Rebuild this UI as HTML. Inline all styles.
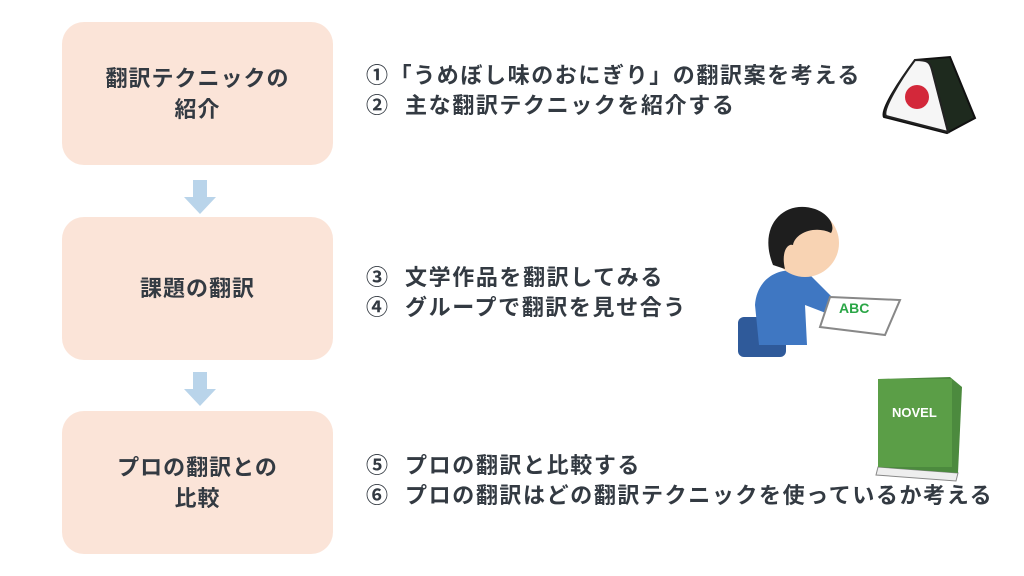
<!DOCTYPE html>
<html><head><meta charset="utf-8"><style>
body{margin:0;width:1024px;height:576px;background:#fff;position:relative;overflow:hidden;font-family:"Liberation Sans","Noto Sans CJK JP",sans-serif;font-weight:bold;color:#333a42}
.box{position:absolute;left:62px;width:271px;background:#fbe4d8;border-radius:22px;display:flex;align-items:center;justify-content:center;text-align:center;font-size:22px;line-height:31px;letter-spacing:1px}
.arr{position:absolute;left:184px;width:32px;height:34px}
.t{position:absolute;left:366px;font-size:22px;line-height:30px;white-space:nowrap;letter-spacing:1.6px}
</style></head><body>
<div class="box" style="top:22px;height:143px">翻訳テクニックの<br>紹介</div>
<div class="box" style="top:217px;height:143px">課題の翻訳</div>
<div class="box" style="top:411px;height:143px">プロの翻訳との<br>比較</div>
<svg class="arr" style="top:180px" viewBox="0 0 32 34"><path d="M9 0H23V17H32L16 34L0 17H9Z" fill="#b9d4ea"/></svg>
<svg class="arr" style="top:372px" viewBox="0 0 32 34"><path d="M9 0H23V17H32L16 34L0 17H9Z" fill="#b9d4ea"/></svg>
<div class="t" style="top:61px">①「うめぼし味のおにぎり」の翻訳案を考える<br>②&nbsp; 主な翻訳テクニックを紹介する</div>
<div class="t" style="top:263px">③&nbsp; 文学作品を翻訳してみる<br>④&nbsp; グループで翻訳を見せ合う</div>
<div class="t" style="top:451px">⑤&nbsp; プロの翻訳と比較する<br>⑥&nbsp; プロの翻訳はどの翻訳テクニックを使っているか考える</div>
<svg style="position:absolute;left:870px;top:40px" width="150" height="100" viewBox="0 0 150 100">
<path d="M45 20L80 17L105 78L77 93L14 77C10 70 30 40 45 20Z" fill="#1e2a1e" stroke="#111" stroke-width="2"/>
<path d="M45 20C58 20 60 22 62 30L78 92L16 76C12 70 30 40 45 20Z" fill="#f6f6f6" stroke="#222" stroke-width="2"/>
<circle cx="47" cy="97" r="0" fill="none"/>
<circle cx="47" cy="57" r="12" fill="#d3283a"/>
</svg>
<svg style="position:absolute;left:735px;top:205px" width="170" height="152" viewBox="0 0 170 152">
<rect x="3" y="112" width="48" height="40" rx="6" fill="#2f5a9a"/>
<path d="M20 100C22 70 50 58 75 70L105 100L96 110L70 100L72 140H24Z" fill="#3f77c2"/>
<ellipse cx="70" cy="38" rx="34" ry="34" fill="#f8d3b3"/>
<path d="M38 60C22 20 50 -6 80 4C96 10 100 22 96 28C80 20 60 28 58 40C52 38 46 48 50 64Z" fill="#1e1e1e"/>
<path d="M95 92L165 95L150 130L85 122Z" fill="#fff" stroke="#888" stroke-width="2"/>
<text x="104" y="108" font-size="14" fill="#2aa646" font-family="Liberation Sans" font-weight="bold">ABC</text>
</svg>
<svg style="position:absolute;left:870px;top:375px" width="96" height="108" viewBox="0 0 96 108">
<path d="M8 92L88 98L86 106L6 100Z" fill="#eee" stroke="#888"/>
<path d="M8 4L80 2L92 12L88 98L8 92Z" fill="#4c8a3e"/>
<rect x="8" y="4" width="74" height="88" fill="#5b9e47"/>
<text x="22" y="42" font-size="13" fill="#fff" font-family="Liberation Sans" font-weight="bold">NOVEL</text>
</svg>
</body></html>
